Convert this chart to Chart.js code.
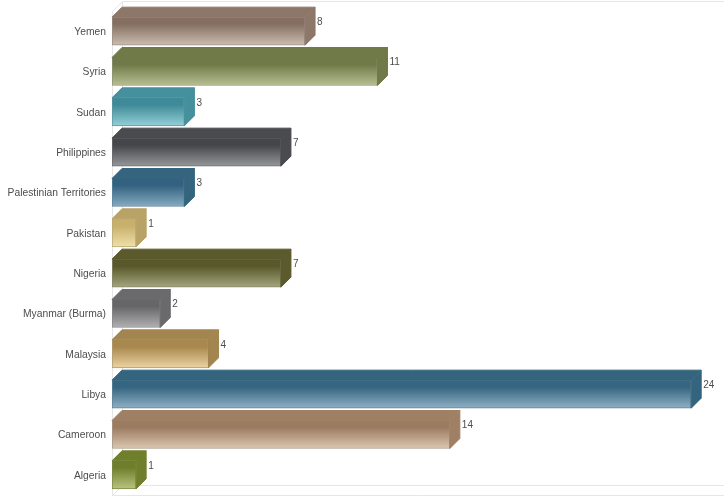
<!DOCTYPE html>
<html>
<head>
<meta charset="utf-8">
<title>Countries</title>
<script src="https://cdn.jsdelivr.net/npm/chart.js@4"></script>
<style>
    html, body { margin: 0; padding: 0; background: #fff; }
    canvas { display: block; }
</style>
</head>
<body>
<canvas id="chart" width="724" height="500"></canvas>
<script>
var categories = ['Yemen', 'Syria', 'Sudan', 'Philippines', 'Palestinian Territories', 'Pakistan',
    'Nigeria', 'Myanmar (Burma)', 'Malaysia', 'Libya', 'Cameroon', 'Algeria'];
var values = [8, 11, 3, 7, 3, 1, 7, 2, 4, 24, 14, 1];

// colori: faccia superiore/laterale, sfumatura frontale alto -> basso, bordo
var sideColors = ['#8d7768', '#6f7a48', '#45909c', '#4a4b4e', '#35647f', '#b8a266',
    '#5a5a2c', '#6a6a6c', '#a3854f', '#35647f', '#9f8065', '#707f2c'];
var frontDark = ['#856f61', '#6f7a48', '#3f8a98', '#45464a', '#336280', '#c8b06c',
    '#58582a', '#666668', '#a8884e', '#356580', '#9b7c62', '#6f7e2c'];
var frontLight = ['#cbbdb0', '#b7bf92', '#93cfd6', '#96979a', '#86abc1', '#efe0a8',
    '#a5a57f', '#b0b0b2', '#ecd3a2', '#8fb0c4', '#dcc6b0', '#b9c47f'];
var edgeColors = ['#9a8f86', '#8e9276', '#5f98a0', '#6c6d70', '#5f8499', '#b5a878',
    '#88886a', '#88888a', '#b09c74', '#5f8499', '#a8968a', '#7c8848'];

var DEPTH = 10;
var TEXT_COLOR = '#4d4d4d';
var WALL_COLOR = '#e6e6e6';

// ── Pareti e pavimento dietro le barre ─────────────────────
var wallsPlugin = {
    id: 'walls',
    beforeDatasetsDraw: function (chart) {
        var c = chart.ctx, a = chart.chartArea;
        c.save();
        c.strokeStyle = WALL_COLOR;
        c.lineWidth = 1;
        c.beginPath();
        c.moveTo(a.right, a.top - DEPTH + 0.5);
        c.lineTo(a.left + DEPTH + 0.5, a.top - DEPTH + 0.5);
        c.lineTo(a.left + DEPTH + 0.5, a.bottom - DEPTH + 0.5);
        c.lineTo(a.right, a.bottom - DEPTH + 0.5);
        c.moveTo(a.left + DEPTH + 0.5, a.top - DEPTH + 0.5);
        c.lineTo(a.left + 0.5, a.top + 0.5);
        c.lineTo(a.left + 0.5, a.bottom + 0.5);
        c.lineTo(a.right, a.bottom + 0.5);
        c.moveTo(a.left + 0.5, a.bottom + 0.5);
        c.lineTo(a.left + DEPTH + 0.5, a.bottom - DEPTH + 0.5);
        c.stroke();
        c.restore();
    }
};

// ── Facce 3D e valori accanto alle barre ───────────────────
var blockPlugin = {
    id: 'block',
    afterDatasetsDraw: function (chart) {
        var c = chart.ctx;
        chart.getDatasetMeta(0).data.forEach(function (bar, i) {
            var p = bar.getProps(['x', 'y', 'base', 'height'], true);
            var top = p.y - p.height / 2, bottom = p.y + p.height / 2;

            c.save();
            c.fillStyle = sideColors[i];
            c.strokeStyle = sideColors[i];
            c.lineWidth = 1;

            c.beginPath();
            c.moveTo(p.base, top);
            c.lineTo(p.base + DEPTH, top - DEPTH);
            c.lineTo(p.x + DEPTH, top - DEPTH);
            c.lineTo(p.x, top);
            c.closePath();
            c.fill();
            c.stroke();

            c.beginPath();
            c.moveTo(p.x, top);
            c.lineTo(p.x + DEPTH, top - DEPTH);
            c.lineTo(p.x + DEPTH, bottom - DEPTH);
            c.lineTo(p.x, bottom);
            c.closePath();
            c.fill();
            c.stroke();

            c.fillStyle = TEXT_COLOR;
            c.font = '10px "Liberation Sans"';
            c.textAlign = 'left';
            c.textBaseline = 'middle';
            c.fillText(values[i], p.x + DEPTH + 2, p.y - DEPTH + 1);
            c.restore();
        });
    }
};

function frontGradient(context) {
    var chart = context.chart, i = context.dataIndex;
    if (!chart.chartArea || i === undefined) return frontDark[0];
    var mid = chart.scales.y.getPixelForValue(i);
    var g = chart.ctx.createLinearGradient(0, mid - 14, 0, mid + 14);
    g.addColorStop(0, frontDark[i]);
    g.addColorStop(0.25, frontDark[i]);
    g.addColorStop(1, frontLight[i]);
    return g;
}

new Chart(document.getElementById('chart'), {
    type: 'bar',
    data: {
        labels: categories,
        datasets: [{
            data: values,
            backgroundColor: frontGradient,
            borderColor: edgeColors,
            borderWidth: { top: 0, right: 1, bottom: 1, left: 1 },
            borderSkipped: false,
            barThickness: 28
        }]
    },
    plugins: [wallsPlugin, blockPlugin],
    options: {
        indexAxis: 'y',
        responsive: false,
        animation: false,
        layout: { padding: { top: 11, bottom: 5, left: 0, right: 0 } },
        scales: {
            x: { display: false, min: 0, max: 25.36 },
            y: {
                afterFit: function (axis) {
                    axis.width = 112;
                    // niente margine extra per le etichette: decide layout.padding
                    axis.paddingTop = 0;
                    axis.paddingBottom = 0;
                },
                border: { display: false },
                grid: { display: false, drawTicks: false },
                ticks: {
                    color: TEXT_COLOR,
                    padding: 6,
                    labelOffset: 1,
                    autoSkip: false,
                    font: { family: '"Liberation Sans"', size: 10.3 }
                }
            }
        },
        plugins: {
            legend: { display: false },
            tooltip: { enabled: false }
        }
    }
});
</script>
</body>
</html>
